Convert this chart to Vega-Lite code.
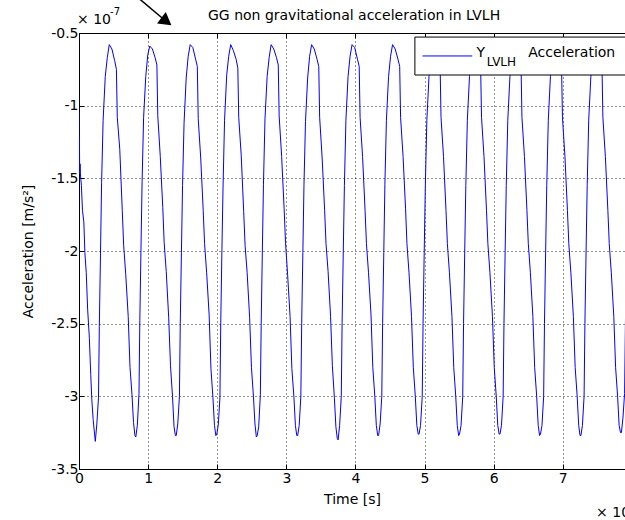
{
  "$schema": "https://vega.github.io/schema/vega-lite/v6.json",
  "width": 546,
  "height": 436,
  "autosize": {"type": "none"},
  "padding": {"left": 79, "top": 33, "right": 0, "bottom": 51},
  "background": "white",
  "config": {
    "view": {"stroke": null},
    "font": "DejaVu Sans",
    "axis": {
      "domainColor": "black",
      "domainWidth": 1,
      "tickColor": "black",
      "tickSize": -5,
      "labelFont": "DejaVu Sans",
      "labelFontSize": 14,
      "labelColor": "black",
      "titleFont": "DejaVu Sans",
      "titleFontSize": 14,
      "titleFontWeight": "normal",
      "titleColor": "black",
      "gridColor": "black",
      "gridDash": [1, 3],
      "gridOpacity": 0.85,
      "gridWidth": 1,
      "labelFlush": false,
      "labelOverlap": false
    }
  },
  "layer": [
    {
      "data": {"values": [
        {"t":0,"a":-1.04},{"t":0.003,"a":-1.38},{"t":0.006,"a":-1.22},{"t":0.01,"a":-1.47},{"t":0.015,"a":-1.4},{"t":0.02,"a":-1.47},{"t":0.035,"a":-1.55},{"t":0.05,"a":-1.72},{"t":0.07,"a":-1.8},{"t":0.085,"a":-2.01},{"t":0.105,"a":-2.15},{"t":0.125,"a":-2.4},{"t":0.15,"a":-2.6},{"t":0.17,"a":-2.85},{"t":0.185,"a":-3.02},{"t":0.205,"a":-3.16},{"t":0.225,"a":-3.26},
        {"t":0.236,"a":-3.31},{"t":0.258,"a":-3.19},{"t":0.282,"a":-3.01},{"t":0.294,"a":-2.52},{"t":0.311,"a":-2.02},{"t":0.327,"a":-1.53},{"t":0.349,"a":-1.1},{"t":0.38,"a":-0.8},{"t":0.409,"a":-0.67},{"t":0.438,"a":-0.58},{"t":0.476,"a":-0.61},{"t":0.516,"a":-0.69},{"t":0.541,"a":-0.75},{"t":0.554,"a":-1.08},{"t":0.59,"a":-1.3},{"t":0.626,"a":-1.72},{"t":0.646,"a":-1.96},{"t":0.676,"a":-2.16},{"t":0.712,"a":-2.45},{"t":0.738,"a":-2.8},{"t":0.767,"a":-2.99},{"t":0.789,"a":-3.18},{"t":0.809,"a":-3.27},
        {"t":0.822,"a":-3.28},{"t":0.844,"a":-3.2},{"t":0.868,"a":-2.98},{"t":0.88,"a":-2.48},{"t":0.897,"a":-1.98},{"t":0.913,"a":-1.52},{"t":0.935,"a":-1.08},{"t":0.966,"a":-0.8},{"t":0.995,"a":-0.65},{"t":1.024,"a":-0.59},{"t":1.062,"a":-0.61},{"t":1.102,"a":-0.67},{"t":1.127,"a":-0.72},{"t":1.14,"a":-1.07},{"t":1.176,"a":-1.35},{"t":1.212,"a":-1.7},{"t":1.232,"a":-1.94},{"t":1.262,"a":-2.14},{"t":1.298,"a":-2.46},{"t":1.324,"a":-2.79},{"t":1.353,"a":-3.0},{"t":1.375,"a":-3.21},{"t":1.395,"a":-3.27},
        {"t":1.407,"a":-3.27},{"t":1.429,"a":-3.19},{"t":1.453,"a":-3.0},{"t":1.465,"a":-2.5},{"t":1.482,"a":-2.01},{"t":1.498,"a":-1.55},{"t":1.52,"a":-1.12},{"t":1.551,"a":-0.81},{"t":1.58,"a":-0.66},{"t":1.609,"a":-0.58},{"t":1.647,"a":-0.6},{"t":1.687,"a":-0.68},{"t":1.712,"a":-0.73},{"t":1.725,"a":-1.09},{"t":1.761,"a":-1.36},{"t":1.797,"a":-1.72},{"t":1.817,"a":-1.95},{"t":1.847,"a":-2.15},{"t":1.883,"a":-2.44},{"t":1.909,"a":-2.81},{"t":1.938,"a":-3.01},{"t":1.96,"a":-3.2},{"t":1.98,"a":-3.27},
        {"t":1.993,"a":-3.26},{"t":2.015,"a":-3.2},{"t":2.039,"a":-3.01},{"t":2.051,"a":-2.49},{"t":2.068,"a":-1.99},{"t":2.084,"a":-1.56},{"t":2.106,"a":-1.1},{"t":2.137,"a":-0.79},{"t":2.166,"a":-0.66},{"t":2.195,"a":-0.58},{"t":2.233,"a":-0.62},{"t":2.273,"a":-0.68},{"t":2.298,"a":-0.74},{"t":2.311,"a":-1.08},{"t":2.347,"a":-1.34},{"t":2.383,"a":-1.73},{"t":2.403,"a":-1.96},{"t":2.433,"a":-2.15},{"t":2.469,"a":-2.46},{"t":2.495,"a":-2.8},{"t":2.524,"a":-3.0},{"t":2.546,"a":-3.19},{"t":2.566,"a":-3.28},
        {"t":2.578,"a":-3.27},{"t":2.6,"a":-3.21},{"t":2.624,"a":-2.99},{"t":2.636,"a":-2.51},{"t":2.653,"a":-2.0},{"t":2.669,"a":-1.54},{"t":2.691,"a":-1.09},{"t":2.722,"a":-0.8},{"t":2.751,"a":-0.67},{"t":2.78,"a":-0.58},{"t":2.818,"a":-0.61},{"t":2.858,"a":-0.67},{"t":2.883,"a":-0.72},{"t":2.896,"a":-1.07},{"t":2.932,"a":-1.35},{"t":2.968,"a":-1.71},{"t":2.988,"a":-1.94},{"t":3.018,"a":-2.16},{"t":3.054,"a":-2.45},{"t":3.08,"a":-2.81},{"t":3.109,"a":-3.0},{"t":3.131,"a":-3.2},{"t":3.151,"a":-3.27},
        {"t":3.164,"a":-3.27},{"t":3.186,"a":-3.2},{"t":3.21,"a":-3.0},{"t":3.222,"a":-2.5},{"t":3.239,"a":-2.01},{"t":3.255,"a":-1.55},{"t":3.277,"a":-1.11},{"t":3.308,"a":-0.81},{"t":3.337,"a":-0.66},{"t":3.366,"a":-0.58},{"t":3.404,"a":-0.61},{"t":3.444,"a":-0.68},{"t":3.469,"a":-0.73},{"t":3.482,"a":-1.08},{"t":3.518,"a":-1.36},{"t":3.554,"a":-1.72},{"t":3.574,"a":-1.95},{"t":3.604,"a":-2.14},{"t":3.64,"a":-2.45},{"t":3.666,"a":-2.79},{"t":3.695,"a":-3.01},{"t":3.717,"a":-3.21},{"t":3.737,"a":-3.29},
        {"t":3.749,"a":-3.3},{"t":3.771,"a":-3.2},{"t":3.795,"a":-3.0},{"t":3.807,"a":-2.49},{"t":3.824,"a":-2.0},{"t":3.84,"a":-1.55},{"t":3.862,"a":-1.1},{"t":3.893,"a":-0.8},{"t":3.922,"a":-0.66},{"t":3.951,"a":-0.58},{"t":3.989,"a":-0.6},{"t":4.029,"a":-0.68},{"t":4.054,"a":-0.73},{"t":4.067,"a":-1.08},{"t":4.103,"a":-1.35},{"t":4.139,"a":-1.72},{"t":4.159,"a":-1.95},{"t":4.189,"a":-2.15},{"t":4.225,"a":-2.44},{"t":4.251,"a":-2.8},{"t":4.28,"a":-3.0},{"t":4.302,"a":-3.2},{"t":4.322,"a":-3.27},
        {"t":4.335,"a":-3.27},{"t":4.357,"a":-3.19},{"t":4.381,"a":-3.0},{"t":4.393,"a":-2.5},{"t":4.41,"a":-2.01},{"t":4.426,"a":-1.54},{"t":4.448,"a":-1.1},{"t":4.479,"a":-0.8},{"t":4.508,"a":-0.66},{"t":4.537,"a":-0.58},{"t":4.575,"a":-0.61},{"t":4.615,"a":-0.68},{"t":4.64,"a":-0.73},{"t":4.653,"a":-1.08},{"t":4.689,"a":-1.35},{"t":4.725,"a":-1.71},{"t":4.745,"a":-1.95},{"t":4.775,"a":-2.15},{"t":4.811,"a":-2.45},{"t":4.837,"a":-2.8},{"t":4.866,"a":-3.0},{"t":4.888,"a":-3.2},{"t":4.908,"a":-3.26},
        {"t":4.92,"a":-3.26},{"t":4.942,"a":-3.2},{"t":4.966,"a":-3.0},{"t":4.978,"a":-2.5},{"t":4.995,"a":-2.0},{"t":5.011,"a":-1.55},{"t":5.033,"a":-1.1},{"t":5.064,"a":-0.8},{"t":5.093,"a":-0.66},{"t":5.122,"a":-0.58},{"t":5.16,"a":-0.61},{"t":5.2,"a":-0.68},{"t":5.225,"a":-0.73},{"t":5.238,"a":-1.08},{"t":5.274,"a":-1.35},{"t":5.31,"a":-1.72},{"t":5.33,"a":-1.95},{"t":5.36,"a":-2.15},{"t":5.396,"a":-2.45},{"t":5.422,"a":-2.8},{"t":5.451,"a":-3.0},{"t":5.473,"a":-3.2},{"t":5.493,"a":-3.27},
        {"t":5.506,"a":-3.26},{"t":5.528,"a":-3.2},{"t":5.552,"a":-3.0},{"t":5.564,"a":-2.5},{"t":5.581,"a":-2.0},{"t":5.597,"a":-1.55},{"t":5.619,"a":-1.1},{"t":5.65,"a":-0.8},{"t":5.679,"a":-0.66},{"t":5.708,"a":-0.58},{"t":5.746,"a":-0.61},{"t":5.786,"a":-0.68},{"t":5.811,"a":-0.73},{"t":5.824,"a":-1.08},{"t":5.86,"a":-1.35},{"t":5.896,"a":-1.72},{"t":5.916,"a":-1.95},{"t":5.946,"a":-2.15},{"t":5.982,"a":-2.45},{"t":6.008,"a":-2.8},{"t":6.037,"a":-3.0},{"t":6.059,"a":-3.2},{"t":6.079,"a":-3.26},
        {"t":6.091,"a":-3.26},{"t":6.113,"a":-3.2},{"t":6.137,"a":-3.0},{"t":6.149,"a":-2.5},{"t":6.166,"a":-2.0},{"t":6.182,"a":-1.55},{"t":6.204,"a":-1.1},{"t":6.235,"a":-0.8},{"t":6.264,"a":-0.66},{"t":6.293,"a":-0.58},{"t":6.331,"a":-0.61},{"t":6.371,"a":-0.68},{"t":6.396,"a":-0.73},{"t":6.409,"a":-1.08},{"t":6.445,"a":-1.35},{"t":6.481,"a":-1.72},{"t":6.501,"a":-1.95},{"t":6.531,"a":-2.15},{"t":6.567,"a":-2.45},{"t":6.593,"a":-2.8},{"t":6.622,"a":-3.0},{"t":6.644,"a":-3.2},{"t":6.664,"a":-3.27},
        {"t":6.677,"a":-3.26},{"t":6.699,"a":-3.2},{"t":6.723,"a":-3.0},{"t":6.735,"a":-2.5},{"t":6.752,"a":-2.0},{"t":6.768,"a":-1.55},{"t":6.79,"a":-1.1},{"t":6.821,"a":-0.8},{"t":6.85,"a":-0.66},{"t":6.879,"a":-0.58},{"t":6.917,"a":-0.61},{"t":6.957,"a":-0.68},{"t":6.982,"a":-0.73},{"t":6.995,"a":-1.08},{"t":7.031,"a":-1.35},{"t":7.067,"a":-1.72},{"t":7.087,"a":-1.95},{"t":7.117,"a":-2.15},{"t":7.153,"a":-2.45},{"t":7.179,"a":-2.8},{"t":7.208,"a":-3.0},{"t":7.23,"a":-3.2},{"t":7.25,"a":-3.27},
        {"t":7.262,"a":-3.27},{"t":7.284,"a":-3.2},{"t":7.308,"a":-3.0},{"t":7.32,"a":-2.5},{"t":7.337,"a":-2.0},{"t":7.353,"a":-1.55},{"t":7.375,"a":-1.1},{"t":7.406,"a":-0.8},{"t":7.435,"a":-0.66},{"t":7.464,"a":-0.58},{"t":7.502,"a":-0.61},{"t":7.542,"a":-0.68},{"t":7.567,"a":-0.73},{"t":7.58,"a":-1.08},{"t":7.616,"a":-1.35},{"t":7.652,"a":-1.72},{"t":7.672,"a":-1.95},{"t":7.702,"a":-2.15},{"t":7.738,"a":-2.45},{"t":7.764,"a":-2.8},{"t":7.793,"a":-3.0},{"t":7.815,"a":-3.2},{"t":7.835,"a":-3.25},
        {"t":7.848,"a":-3.25},{"t":7.87,"a":-3.15},{"t":7.894,"a":-2.98},{"t":7.906,"a":-2.5},{"t":7.923,"a":-2.0}
      ]},
      "mark": {"type": "line", "color": "#0000ff", "strokeWidth": 1, "clip": true},
      "encoding": {
        "x": {
          "field": "t", "type": "quantitative",
          "scale": {"domain": [0, 7.9], "nice": false, "zero": false},
          "axis": {"orient": "bottom", "values": [0, 1, 2, 3, 4, 5, 6, 7], "title": "Time [s]", "grid": true, "labelPadding": 7, "titlePadding": 7}
        },
        "y": {
          "field": "a", "type": "quantitative",
          "scale": {"domain": [-3.5, -0.5], "nice": false, "zero": false},
          "axis": {"values": [-3.5, -3, -2.5, -2, -1.5, -1, -0.5], "labelExpr": "'' + datum.value", "title": "Acceleration [m/s²]", "grid": true, "labelPadding": 6, "titlePadding": 15}
        }
      }
    },
    {
      "data": {"values": [{}]},
      "mark": {"type": "rect", "fill": "white", "stroke": "black", "strokeWidth": 1},
      "encoding": {
        "x": {"datum": 4.86, "type": "quantitative", "axis": {"orient": "top", "values": [0, 1, 2, 3, 4, 5, 6, 7], "labels": false, "grid": false, "title": null, "domain": true}},
        "x2": {"datum": 8.6},
        "y": {"datum": -0.528, "type": "quantitative"},
        "y2": {"datum": -0.789}
      }
    },
    {
      "data": {"values": [{}]},
      "mark": {"type": "rule", "color": "#0000ff", "strokeWidth": 1},
      "encoding": {
        "x": {"datum": 4.97, "type": "quantitative", "axis": null},
        "x2": {"datum": 5.69},
        "y": {"datum": -0.658, "type": "quantitative"}
      }
    },
    {
      "data": {"values": [{}]},
      "mark": {"type": "text", "text": "Y", "align": "left", "baseline": "middle", "font": "DejaVu Sans", "fontSize": 14, "color": "black"},
      "encoding": {
        "x": {"datum": 5.75, "type": "quantitative", "axis": null},
        "y": {"datum": -0.638, "type": "quantitative"}
      }
    },
    {
      "data": {"values": [{}]},
      "mark": {"type": "text", "text": "LVLH", "align": "left", "baseline": "middle", "font": "DejaVu Sans", "fontSize": 12, "color": "black"},
      "encoding": {
        "x": {"datum": 5.9, "type": "quantitative", "axis": null},
        "y": {"datum": -0.7, "type": "quantitative"}
      }
    },
    {
      "data": {"values": [{}]},
      "mark": {"type": "text", "text": "Acceleration", "align": "left", "baseline": "middle", "font": "DejaVu Sans", "fontSize": 14, "color": "black"},
      "encoding": {
        "x": {"datum": 6.5, "type": "quantitative", "axis": null},
        "y": {"datum": -0.638, "type": "quantitative"}
      }
    },
    {
      "data": {"values": [{}]},
      "mark": {"type": "text", "text": "GG non gravitational acceleration in LVLH", "align": "center", "baseline": "alphabetic", "font": "DejaVu Sans", "fontSize": 14, "color": "black"},
      "encoding": {
        "x": {"datum": 3.98, "type": "quantitative", "axis": null},
        "y": {"datum": -0.4133, "type": "quantitative"}
      }
    },
    {
      "data": {"values": [{}]},
      "mark": {"type": "text", "text": "× 10", "align": "left", "baseline": "middle", "font": "DejaVu Sans", "fontSize": 14, "color": "black"},
      "encoding": {
        "x": {"datum": -0.029, "type": "quantitative", "axis": null},
        "y": {"datum": -0.4085, "type": "quantitative"}
      }
    },
    {
      "data": {"values": [{}]},
      "mark": {"type": "text", "text": "-7", "align": "left", "baseline": "middle", "font": "DejaVu Sans", "fontSize": 10, "color": "black"},
      "encoding": {
        "x": {"datum": 0.449, "type": "quantitative", "axis": null},
        "y": {"datum": -0.353, "type": "quantitative"}
      }
    },
    {
      "data": {"values": [{}]},
      "mark": {"type": "text", "text": "× 10", "align": "left", "baseline": "middle", "font": "DejaVu Sans", "fontSize": 14, "color": "black"},
      "encoding": {
        "x": {"datum": 7.482, "type": "quantitative", "axis": null},
        "y": {"datum": -3.805, "type": "quantitative"}
      }
    },
    {
      "data": {"values": [{}]},
      "mark": {"type": "rule", "color": "black", "strokeWidth": 1.5},
      "encoding": {
        "x": {"datum": 0.854, "type": "quantitative", "axis": null},
        "x2": {"datum": 1.259},
        "y": {"datum": -0.257, "type": "quantitative"},
        "y2": {"datum": -0.419}
      }
    },
    {
      "data": {"values": [{}]},
      "mark": {"type": "point", "shape": "triangle-right", "filled": true, "color": "black", "opacity": 1, "size": 210, "angle": 37},
      "encoding": {
        "x": {"datum": 1.265, "type": "quantitative", "axis": null},
        "y": {"datum": -0.4215, "type": "quantitative"}
      }
    }
  ],
  "resolve": {"axis": {"x": "independent"}}
}
